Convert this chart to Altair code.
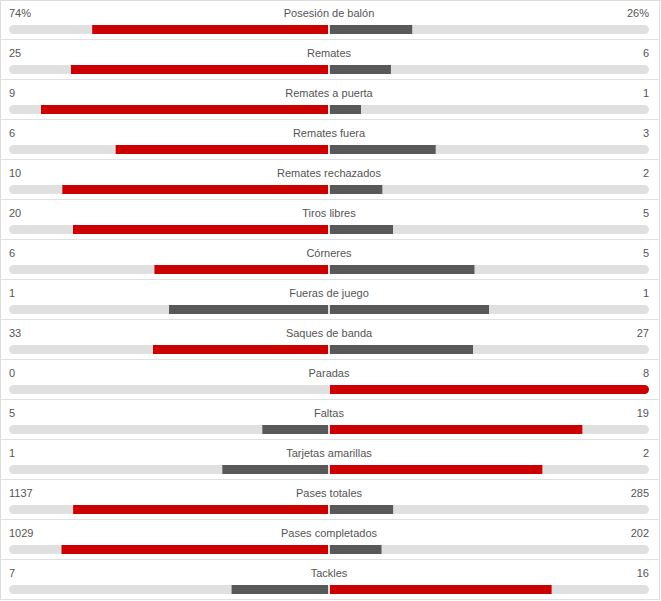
import altair as alt
import pandas as pd

stats = ["Posesión de balón", "Remates", "Remates a puerta", "Remates fuera",
         "Remates rechazados", "Tiros libres", "Córneres", "Fueras de juego",
         "Saques de banda", "Paradas", "Faltas", "Tarjetas amarillas",
         "Pases totales", "Pases completados", "Tackles"]
home = [74, 25, 9, 6, 10, 20, 6, 1, 33, 0, 5, 1, 1137, 1029, 7]
away = [26, 6, 1, 3, 2, 5, 5, 1, 27, 8, 19, 2, 285, 202, 16]
suffix = ["%"] + [""] * 14

RED = "#cc0000"
DARK = "#595959"
LIGHT = "#e0e0e0"
TXT = "#555555"

rows = []
for s, h, a, suf in zip(stats, home, away, suffix):
    tot = h + a
    rows.append({
        "stat": s,
        "hl": f"{h}{suf}",
        "al": f"{a}{suf}",
        "neg": -h / tot if tot else 0,
        "af": a / tot if tot else 0,
        "hc": RED if h > a else DARK,
        "ac": RED if a > h else DARK,
        "lo": -1, "hi": 1, "zero": 0,
    })
df = pd.DataFrame(rows)

xs = alt.Scale(domain=[-1, 1], range=[9, 649])
ys = alt.Scale(domain=stats, paddingInner=0, paddingOuter=0)
Y = alt.Y("stat:N", sort=stats, scale=ys, axis=None)

base = alt.Chart(df)

bg = base.mark_bar(height=9, yOffset=9.5, cornerRadius=4.5, color=LIGHT).encode(
    x=alt.X("lo:Q", scale=xs, axis=None), x2="hi:Q", y=Y)

left = base.transform_filter("datum.neg < 0 && datum.neg > -1").mark_bar(
    height=9, yOffset=9.5, x2Offset=-1).encode(
    x=alt.X("neg:Q", scale=xs, axis=None), x2="zero:Q", y=Y,
    color=alt.Color("hc:N", scale=None))
left_full = base.transform_filter("datum.neg <= -1").mark_bar(
    height=9, yOffset=9.5, x2Offset=-1, cornerRadiusTopLeft=4.5,
    cornerRadiusBottomLeft=4.5).encode(
    x=alt.X("neg:Q", scale=xs, axis=None), x2="zero:Q", y=Y,
    color=alt.Color("hc:N", scale=None))

right = base.transform_filter("datum.af > 0 && datum.af < 1").mark_bar(
    height=9, yOffset=9.5, xOffset=1).encode(
    x=alt.X("zero:Q", scale=xs, axis=None), x2="af:Q", y=Y,
    color=alt.Color("ac:N", scale=None))
right_full = base.transform_filter("datum.af >= 1").mark_bar(
    height=9, yOffset=9.5, xOffset=1, cornerRadiusTopRight=4.5,
    cornerRadiusBottomRight=4.5).encode(
    x=alt.X("zero:Q", scale=xs, axis=None), x2="af:Q", y=Y,
    color=alt.Color("ac:N", scale=None))

font = "Liberation Sans"
TY = -6.5
center_t = base.mark_text(font=font, fontSize=11, color=TXT, yOffset=TY,
                          baseline="middle", align="center").encode(
    x=alt.X("zero:Q", scale=xs, axis=None), y=Y, text="stat:N")
left_t = base.mark_text(font=font, fontSize=11, color=TXT, yOffset=TY,
                        baseline="middle", align="left").encode(
    x=alt.X("lo:Q", scale=xs, axis=None), y=Y, text="hl:N")
right_t = base.mark_text(font=font, fontSize=11, color=TXT, yOffset=TY,
                         baseline="middle", align="right").encode(
    x=alt.X("hi:Q", scale=xs, axis=None), y=Y, text="al:N")

sep = base.mark_rule(color=LIGHT, strokeWidth=1, yOffset=19.5).encode(
    x=alt.value(0), x2=alt.value(659), y=Y)
vline = alt.Chart(pd.DataFrame({"a": [0]})).mark_rule(color=LIGHT, strokeWidth=1).encode(
    x=alt.value(659.5), y=alt.value(0), y2=alt.value(601))

chart = alt.layer(bg, left, left_full, right, right_full, center_t, left_t, right_t,
                  sep, vline).properties(
    width=661, height=600, padding=0,
    autosize=alt.AutoSizeParams(type="none")
).configure_view(stroke=None).configure(background="white")

chart.save("out.html", embed_options={"renderer": "svg", "actions": False})
